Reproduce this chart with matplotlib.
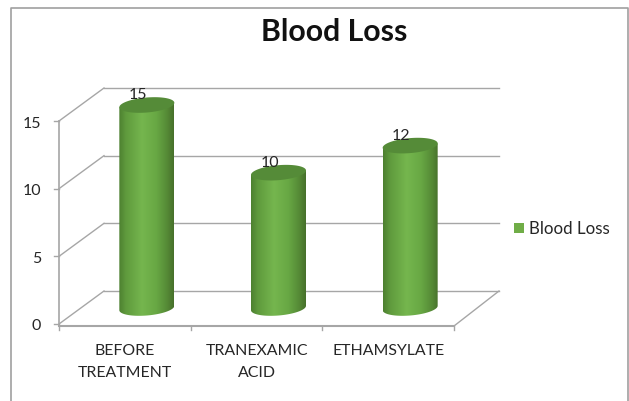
import numpy as np
import matplotlib
matplotlib.use('Agg')
import matplotlib.pyplot as plt
from matplotlib.colors import LinearSegmentedColormap
from matplotlib.patches import Polygon, Rectangle
from matplotlib.transforms import Affine2D

categories = ['BEFORE\nTREATMENT', 'TRANEXAMIC\nACID', 'ETHAMSYLATE']
blood_loss = [15, 10, 12]
y_ticks = [0, 5, 10, 15]
series_name = 'Blood Loss'

W, H = 629, 401
GRID = '#a6a6a6'
TEXT = '#262626'
DEPTH_X, DEPTH_Y = 45, 33
Y_MAX = 18  # room above the top tick for the bar caps

plt.rcParams['font.family'] = ['Lato', 'DejaVu Sans']

fig = plt.figure(figsize=(W / 100, H / 100), dpi=100)

# front plane of the 3d box, in pixels from the top left
left, right, y_zero = 59, 454, 324
px_x = len(categories) / (right - left)
px_y = 15 / 203
ax = fig.add_axes([left / W, 1 - y_zero / H, (right - left) / W, Y_MAX / px_y / H])
ax.axis('off')

# depth of the box, bars stand half way in
back = ax.transData + Affine2D().translate(DEPTH_X, DEPTH_Y)
mid = ax.transData + Affine2D().translate(22, 16)

# walls and floor
for v in y_ticks:
    ax.plot([0, 3], [v, v], transform=back, color=GRID, lw=1.0, clip_on=False, zorder=1)
    ax.plot([-5 * px_x, 0], [v, v], color=GRID, lw=1.0, clip_on=False, zorder=1)
    ax.plot([0, DEPTH_X * px_x], [v, v + DEPTH_Y * px_y], color=GRID, lw=1.0, clip_on=False, zorder=1)
    ax.text(-18 * px_x, v - 2.5 * px_y, str(v), ha='right', va='center', fontsize=11.5, color=TEXT)
ax.plot([0, 0], [0, 15], color=GRID, lw=1.2, clip_on=False, zorder=1)
ax.plot([0, 3], [-2 * px_y, -2 * px_y], color=GRID, lw=1.5, clip_on=False, zorder=1)
ax.plot([3, 3 + DEPTH_X * px_x], [-2 * px_y, DEPTH_Y * px_y], color=GRID, lw=1.0, clip_on=False, zorder=1)
for i in range(len(categories) + 1):
    ax.plot([i, i], [-2 * px_y, -6 * px_y], color=GRID, lw=1.0, clip_on=False, zorder=1)

# cylinders
shade = LinearSegmentedColormap.from_list('cyl', [
    (0.0, '#4d8030'), (0.12, '#5f9a3d'), (0.42, '#75b64e'),
    (0.68, '#68a844'), (0.88, '#558a36'), (1.0, '#47702b')])
t = np.linspace(0, 2 * np.pi, 121)
half_w, half_h, tilt = 27.5 * px_x, 7.5 * px_y, 2.2 * px_y
ring_x = half_w * np.cos(t)
ring_y = half_h * np.sin(t) + tilt * np.cos(t)
front_half = t >= np.pi

for i, v in enumerate(blood_loss):
    cx = i + 0.5
    low_x, low_y = cx + ring_x[front_half], ring_y[front_half]
    body = np.vstack([
        np.column_stack([low_x, low_y]),
        [[cx + half_w, v + tilt], [cx - half_w, v - tilt]],
    ])
    poly = Polygon(body, closed=True, transform=mid, fc='none', ec='none', clip_on=False)
    ax.add_patch(poly)
    img = ax.imshow(np.linspace(0, 1, 128).reshape(1, -1), cmap=shade, aspect='auto',
                    extent=(cx - half_w, cx + half_w, -1, v + 1), transform=mid, zorder=3)
    img.set_clip_path(poly)
    ax.add_patch(Polygon(np.column_stack([cx + ring_x, v + ring_y]), closed=True,
                         transform=mid, fc='#558b38', ec='none', clip_on=False, zorder=4))
    ax.text(cx - 9 * px_x, v + 10 * px_y, str(v), transform=mid, ha='center', va='center',
            fontsize=11.5, color=TEXT, zorder=5, clip_on=False)
ax.set_xlim(0, len(categories))
ax.set_ylim(0, Y_MAX)

for i, label in enumerate(categories):
    ax.text(i + 0.5, -20 * px_y, label, ha='center', va='top', fontsize=11.4, color=TEXT,
            linespacing=1.74, clip_on=False)

# title, legend and chart frame
fig.text(334 / W, 1 - 32 / H, series_name, ha='center', va='center', fontsize=21.8,
         fontweight='bold', color='#111111')
fig.add_artist(Rectangle((514 / W, 1 - 233 / H), 10 / W, 10 / H, transform=fig.transFigure,
                         fc='#70ad47', ec='none'))
fig.text(529 / W, 1 - 229 / H, series_name, ha='left', va='center', fontsize=12.2, color=TEXT)

fig.add_artist(plt.Line2D([11 / W, 11 / W, 628 / W, 628 / W],
                          [0, 1 - 7.5 / H, 1 - 7.5 / H, 0],
                          transform=fig.transFigure, color='#a0a0a0', lw=1.2))

fig.savefig('out.png', dpi=100, facecolor='white')
